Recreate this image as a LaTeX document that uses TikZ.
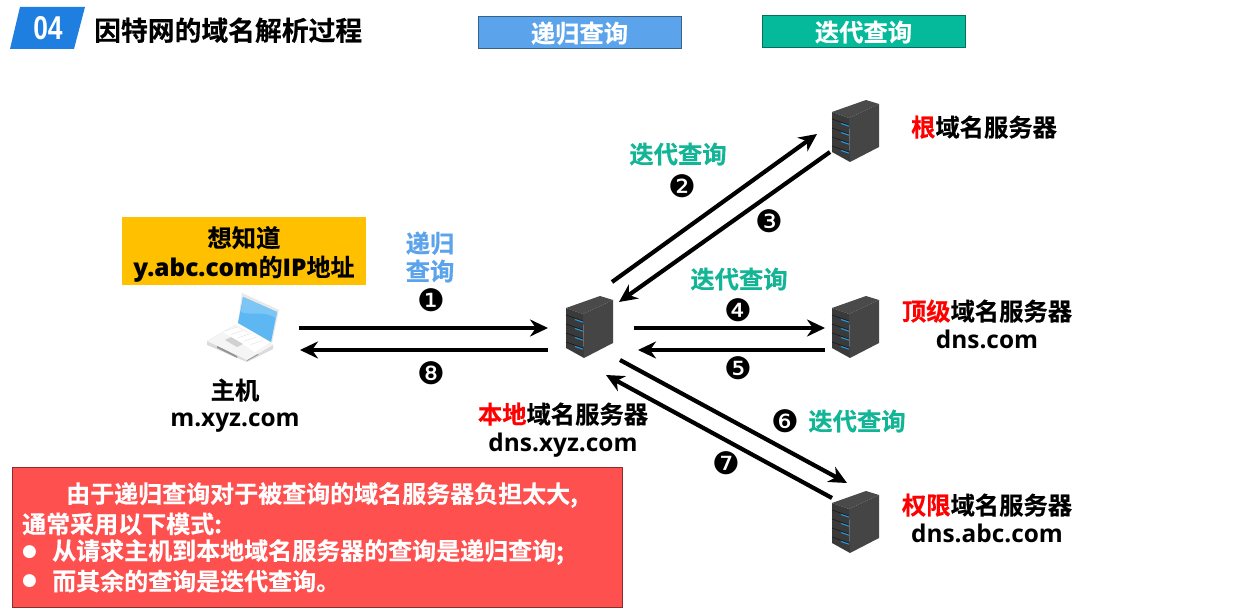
\documentclass[tikz,border=0pt]{standalone}
\usepackage{fontspec}
\setmainfont{Open Sans}[BoldFont={Open Sans Bold}]
\newfontfamily\cjk{Noto Sans CJK SC}[BoldFont={Noto Sans CJK SC Bold},BoldFeatures={FakeBold=0.4}]
\newfontfamily\dv{DejaVu Sans}
\newfontfamily\lib{Liberation Sans}[BoldFont={Liberation Sans Bold}]
\newfontfamily\latb{Open Sans Bold}
\usetikzlibrary{arrows.meta}
\definecolor{teal1}{HTML}{12B595}
\definecolor{blue1}{HTML}{5BA3EA}
\definecolor{btn2}{HTML}{05BA9B}
\definecolor{hdr}{HTML}{1F7FE0}
\definecolor{red1}{HTML}{FF5050}
\definecolor{amber}{HTML}{FFC000}
\definecolor{srvtop}{HTML}{4A4A4A}
\definecolor{srvleft}{HTML}{3A3A3A}
\definecolor{srvright}{HTML}{454545}
\definecolor{srvblue}{HTML}{1E9BE8}
\definecolor{scr}{HTML}{5DB7F3}
\definecolor{scrl}{HTML}{7CC6F6}
\newcommand{\fs}[1]{\fontsize{#1}{#1}\selectfont}
\newcommand{\rd}[1]{\textcolor{red}{#1}}
\tikzset{
 x=1pt,y=-1pt,
 lab/.style={inner sep=0pt,font=\cjk\bfseries\fs{24.3},align=center,text depth=0pt},
 capt/.style={lab},
 addr/.style={lab,font=\latb\fs{24.4}},
 tealtxt/.style={lab,text=teal1},
 num/.style={inner sep=0pt,font=\dv\fs{31}},
 flow/.style={line width=4.2pt,-{Stealth[length=18pt,width=17pt]}},
 btn/.style={lab,minimum width=203pt,minimum height=32pt,text=white},
 srv/.pic={
  \fill[srvtop] (-23,-19)--(11,-31)--(24,-27)--(-6,-13)--cycle;
  \fill[srvleft] (-23,-19)--(-6,-13)--(-5,31)--(-23,21)--cycle;
  \fill[srvright] (-6,-13)--(24,-27)--(24,16)--(-5,31)--cycle;
  \foreach \d in {0,9,18,27}{
   \draw[black!90,line width=.6pt] (-23,-12+\d)--(-6,-6+\d);
   \draw[srvblue,line width=1pt] (-14,-7.5+\d)--(-6,-4.8+\d);
  }
 }
}
\begin{document}
\begin{tikzpicture}
\useasboundingbox (0,0) rectangle (1253,609);
\fill[white] (0,0) rectangle (1253,609);
% header
\fill[hdr] (20,7)--(85,7)--(74,49)--(10,49)--cycle;
\node[inner sep=0pt,text=white,font=\lib\bfseries\fs{33}] (no) at (48,28.5) {\scalebox{.8}[1]{04}};
\node[lab,font=\cjk\bfseries\fs{26.8},anchor=west] (title) at (94,29) {因特网的域名解析过程};
\node[btn,fill=blue1,draw=blue1!60!black,line width=.6pt] (b1) at (579.5,32) {递归查询};
\node[btn,fill=btn2,draw=btn2!60!black,line width=.6pt] (b2) at (863.5,31) {迭代查询};
% host note
\node[fill=amber,minimum width=244pt,minimum height=68pt,inner sep=0pt] (note) at (244,251) {};
\node[lab] (note1) at (244,236.5) {想知道};
\node[lab,font=\cjk\bfseries\fs{24}] (note2) at (244,266) {{\latb\fs{24.4}y.abc.com}的{\latb\fs{24.4}IP}地址};
% laptop
\coordinate (laptop) at (243,330);
\begin{scope}[shift={(laptop)}]
 % base
 \fill[black!14] (-36,11)--(-8,-5)--(30,15)--(30,19)--(4,32)--(-36,15)--cycle;
 \fill[black!42] (-26,15)--(-6,26)--(-6,28)--(-26,18)--cycle;
 \fill[black!42] (4,28)--(15,22)--(15,25)--(4,31)--cycle;
 \fill[black!4] (-36,11)--(-8,-5)--(30,15)--(4,30)--cycle;
 % keyboard
 \fill[white] (-20,2)--(-8,-3)--(27,12)--(12,22)--cycle;
 \foreach \k in {0,4,8,12,16}{\draw[black!12,line width=.4pt] (-18+\k*1.6,1+\k*.85)--(-6+\k*1.6,-3+\k*.85);}
 \fill[black!18] (-18,10)--(-12,7)--(0,14)--(-6,17)--cycle;
 % screen
 \fill[black!9] (-1,-37)--(36,-20)--(29,13)--(-5,-7)--cycle;
 \fill[scr] (0,-33)--(34,-18)--(28,12)--(-5,-7)--cycle;
 \fill[scrl] (0,-33)--(34,-18)--(33,-12) .. controls (20,-20) and (8,-14) .. (-2,-18)--cycle;
\end{scope}
% servers
\coordinate (sl) at (589,327);
\coordinate (sr) at (855,131);
\coordinate (st) at (855,327);
\coordinate (sa) at (855,522);
\pic at (sl) {srv};
\pic at (sr) {srv};
\pic at (st) {srv};
\pic at (sa) {srv};
% arrow ends
\coordinate (a1s) at (299,328); \coordinate (a1e) at (548,328);
\coordinate (a8s) at (548,350); \coordinate (a8e) at (300,350);
\coordinate (a2s) at (612,282); \coordinate (a2e) at (817,134);
\coordinate (a3s) at (830,152); \coordinate (a3e) at (619,302);
\coordinate (a4s) at (634,328); \coordinate (a4e) at (825,328);
\coordinate (a5s) at (825,350); \coordinate (a5e) at (638,350);
\coordinate (a6s) at (620,360); \coordinate (a6e) at (847,483);
\coordinate (a7s) at (832,498); \coordinate (a7e) at (606,375);
\foreach \n in {1,...,8}{\draw[flow] (a\n s) -- (a\n e);}
% labels
\node[tealtxt,text=blue1] (l1a) at (430,242) {递归};
\node[tealtxt,text=blue1] (l1b) at (430,270) {查询};
\node[num] (n1) at (431,300) {❶};
\node[num] (n8) at (431,373) {❽};
\node[tealtxt] (l2) at (678,153) {迭代查询};
\node[num] (n2) at (682,186) {❷};
\node[num] (n3) at (769,221) {❸};
\node[tealtxt] (l4) at (739,278) {迭代查询};
\node[num] (n4) at (738,310) {❹};
\node[num] (n5) at (738,368) {❺};
\node[num] (n6) at (785,421) {❻};
\node[tealtxt] (l6) at (857,420) {迭代查询};
\node[num] (n7) at (726,463) {❼};
% server names
\node[capt] (hostn) at (235,389) {主机};
\node[addr] (hosta) at (235,419.5) {m.xyz.com};
\node[capt] (loc) at (563,413) {\rd{本地}域名服务器};
\node[addr] (loca) at (563,442) {dns.xyz.com};
\node[capt] (root) at (984,126) {\rd{根}域名服务器};
\node[capt] (tld) at (987,310) {\rd{顶级}域名服务器};
\node[addr] (tlda) at (987,339) {dns.com};
\node[capt] (auth) at (987,504) {\rd{权限}域名服务器};
\node[addr] (autha) at (987,533) {dns.abc.com};
% red box
\node[fill=red1,draw=red1!55!black,line width=.6pt,minimum width=610pt,minimum height=140pt,inner sep=0pt] (box) at (317,537) {};
\begin{scope}[every node/.style={inner sep=0pt,anchor=west,text=white,font=\cjk\bfseries\fs{24}}]
\node (t1) at (66,495) {由于递归查询对于被查询的域名服务器负担太大,};
\node (t2) at (22,524) {通常采用以下模式:};
\node (bu1) at (22,552) {\dv\fs{17}●};
\node (t3) at (52,552) {从请求主机到本地域名服务器的查询是递归查询;};
\node (bu2) at (22,581) {\dv\fs{17}●};
\node (t4) at (52,581) {而其余的查询是迭代查询。};
\end{scope}
\end{tikzpicture}
\end{document}
